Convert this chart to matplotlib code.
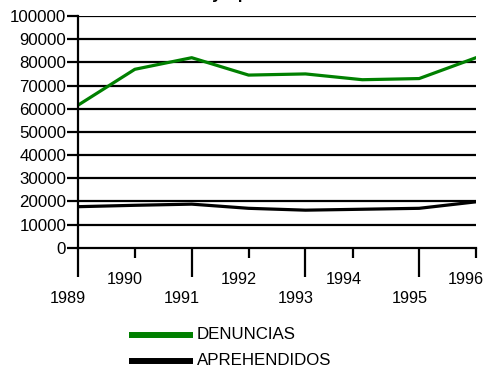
import matplotlib
matplotlib.use("Agg")
import matplotlib.pyplot as plt
from matplotlib.lines import Line2D
from matplotlib.transforms import ScaledTranslation

plt.rcParams['font.family'] = ['Liberation Sans', 'DejaVu Sans']

# --- data -------------------------------------------------------------
years = [1989, 1990, 1991, 1992, 1993, 1994, 1995, 1996]
denuncias = [61500, 77000, 82000, 74500, 75000, 72500, 73000, 82000]
aprehendidos = [17700, 18300, 18800, 17000, 16200, 16600, 17000, 19800]
series_names = ["DENUNCIAS", "APREHENDIDOS"]
series_colors = ["#008000", "#000000"]
title = "Denuncias y Aprehendidos"
y_ticks = list(range(0, 100001, 10000))

W, H, DPI = 486, 372, 100
fig = plt.figure(figsize=(W / DPI, H / DPI), dpi=DPI)
ax = fig.add_axes([78 / W, 1 - 247.7 / H, (476 - 78) / W, (247.7 - 16) / H])

ax.set_xlim(years[0], years[-1])
ax.set_ylim(y_ticks[0], y_ticks[-1])

# horizontal grid lines
for v in y_ticks[1:]:
    ax.axhline(v, color="black", lw=1.6, zorder=1)

for vals, col in zip([denuncias, aprehendidos], series_colors):
    ax.plot(years, vals, color=col, lw=2.3, zorder=3, solid_joinstyle="round")

for s in ["top", "right"]:
    ax.spines[s].set_visible(False)
for s in ["left", "bottom"]:
    ax.spines[s].set_linewidth(1.6)
    ax.spines[s].set_zorder(4)

ax.set_yticks(y_ticks)
ax.set_yticklabels([str(v) for v in y_ticks])
ax.tick_params(axis="y", length=8, width=1.6, pad=0.5, labelsize=12.2)

# odd years: long ticks, lower labels; even years: short ticks, upper labels
odd_years = years[0::2]
even_years = years[1::2]
even_pos = [y - 0.16 if y == 1994 else y for y in even_years]
ax.set_xticks(odd_years)
ax.set_xticklabels([str(y) for y in odd_years])
ax.set_xticks(even_pos, minor=True)
ax.set_xticklabels([str(y) for y in even_years], minor=True)
ax.tick_params(axis="x", which="major", length=21, width=1.6, pad=10, labelsize=11.7)
ax.tick_params(axis="x", which="minor", length=7.5, width=1.6, pad=10, labelsize=11.7)

shift = ScaledTranslation(-7 / 72, 0, fig.dpi_scale_trans)
for lab in ax.get_xticklabels() + ax.get_xticklabels(minor=True):
    lab.set_transform(lab.get_transform() + shift)

# title sits at the very top edge
fig.text(122 / W, 1 + 0.5 / H, title, fontsize=12.2, fontweight="bold",
         ha="left", va="baseline")

# legend
leg_y = [335, 361]
for name, col, yy in zip(series_names, series_colors, leg_y):
    fig.add_artist(Line2D([129 / W, 193 / W], [1 - yy / H, 1 - yy / H],
                          color=col, lw=4.3, solid_capstyle="butt"))
    fig.text(197 / W, 1 - (yy + 4) / H, name, fontsize=12.2,
             ha="left", va="baseline")

fig.savefig("out.png", dpi=DPI)
